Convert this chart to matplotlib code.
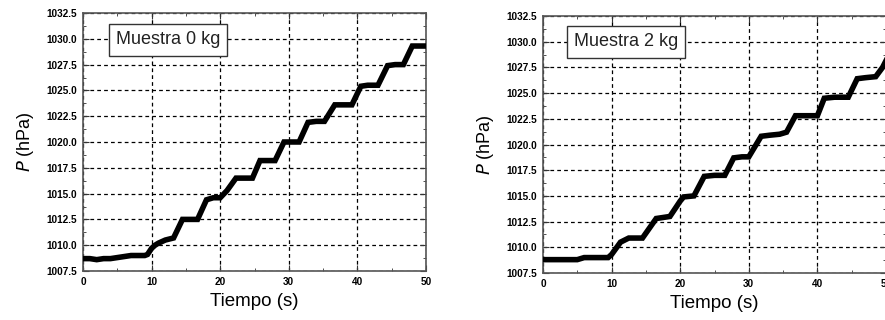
import matplotlib.pyplot as plt
from matplotlib.ticker import MultipleLocator, FormatStrFormatter

plt.rcParams['font.family'] = ['Liberation Sans', 'DejaVu Sans']

# Muestra 0 kg
t0 = [0, 1, 2, 3, 4, 5, 6, 7, 8, 9, 9.4, 10, 10.5, 11, 12, 13.2, 14.5, 15.5, 16.7,
      18, 19, 20, 21, 22.3, 23.5, 24.7, 25.8, 27, 28, 29.3, 30.5, 31.5, 32.8, 34,
      35.2, 36.7, 38, 39.2, 40.5, 41.5, 43, 44.4, 45.5, 46.7, 48, 49, 50]
p0 = [1008.7, 1008.7, 1008.6, 1008.7, 1008.7, 1008.8, 1008.9, 1009.0, 1009.0,
      1009.0, 1009.1, 1009.7, 1010.0, 1010.2, 1010.5, 1010.7, 1012.5, 1012.5,
      1012.5, 1014.4, 1014.6, 1014.6, 1015.3, 1016.5, 1016.5, 1016.5, 1018.2,
      1018.2, 1018.2, 1020.0, 1020.0, 1020.0, 1021.9, 1022.0, 1022.0, 1023.6,
      1023.6, 1023.6, 1025.4, 1025.5, 1025.5, 1027.4, 1027.5, 1027.5, 1029.3,
      1029.3, 1029.3]

# Muestra 2 kg
t2 = [0, 1, 2, 3, 4, 5, 6, 7, 8, 9.5, 10, 11.3, 12.5, 13.5, 14.5, 16.5, 17.5,
      18.5, 20, 20.5, 22, 23.5, 25, 26.5, 27.8, 29, 30, 31.8, 33, 34.5, 35.5,
      36.8, 38.5, 40, 41, 42.5, 44.5, 45.8, 47, 48.5, 49.5, 50.5]
p2 = [1008.8, 1008.8, 1008.8, 1008.8, 1008.8, 1008.8, 1009.0, 1009.0, 1009.0,
      1009.0, 1009.3, 1010.5, 1010.9, 1010.9, 1010.9, 1012.8, 1012.9, 1013.0,
      1014.5, 1014.9, 1015.0, 1016.9, 1017.0, 1017.0, 1018.7, 1018.8, 1018.8,
      1020.8, 1020.9, 1021.0, 1021.2, 1022.8, 1022.8, 1022.8, 1024.5, 1024.6,
      1024.6, 1026.4, 1026.5, 1026.6, 1027.5, 1028.8]

labels = ['Muestra 0 kg', 'Muestra 2 kg']

fig = plt.figure(figsize=(8.85, 3.2), dpi=100)
W, H = 885, 320
ax1 = fig.add_axes([83 / W, 1 - 271 / H, 343 / W, 258 / H])
ax2 = fig.add_axes([543 / W, 1 - 273 / H, 343 / W, 257 / H])

for ax, t, p, lab, box in [(ax1, t0, p0, labels[0], (168, 40)),
                           (ax2, t2, p2, labels[1], (626, 42))]:
    ax.plot(t, p, color='black', lw=4, solid_joinstyle='miter', zorder=3)
    ax.set_xlim(0, 50)
    ax.set_ylim(1007.5, 1032.5)
    ax.xaxis.set_major_locator(MultipleLocator(10))
    ax.xaxis.set_minor_locator(MultipleLocator(5))
    ax.yaxis.set_major_locator(MultipleLocator(2.5))
    ax.yaxis.set_minor_locator(MultipleLocator(1.25))
    ax.yaxis.set_major_formatter(FormatStrFormatter('%.1f'))
    ax.tick_params(which='both', direction='in', top=True, right=True,
                   labelsize=7.2, pad=4, color='#333333')
    ax.tick_params(which='major', length=4)
    ax.tick_params(which='minor', length=2.5)
    for lbl in ax.get_xticklabels() + ax.get_yticklabels():
        lbl.set_fontweight('bold')
    ax.grid(True, which='major', color='black', ls=(0, (3, 2.5)), lw=0.9)
    for s in ax.spines.values():
        s.set_color('#555555')
        s.set_linewidth(1.2)
    ax.set_xlabel('Tiempo (s)', fontsize=13.5, labelpad=5)
    ax.set_ylabel(r'$P$ (hPa)', fontsize=13, labelpad=8)
    ax.text(box[0] / W, 1 - box[1] / H, lab, transform=fig.transFigure,
            ha='center', va='center', fontsize=13, color='#222222',
            bbox=dict(boxstyle='square,pad=0.4', fc='white', ec='#333333', lw=1),
            zorder=5)

fig.savefig('out.png', dpi=100)
